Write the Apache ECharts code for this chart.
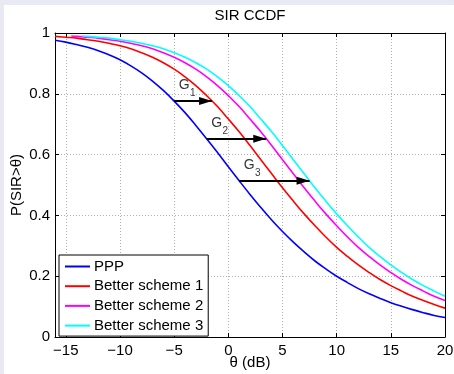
<!DOCTYPE html>
<html>
<head>
<meta charset="utf-8">
<script src="https://cdn.jsdelivr.net/npm/echarts@6/dist/echarts.min.js"></script>
<style>
  html, body { margin: 0; padding: 0; width: 454px; height: 374px; overflow: hidden; background: #e9e9f4; }
  #chart { position: absolute; left: 4px; top: 5px; width: 450px; height: 369px; background: #ffffff; }
</style>
</head>
<body>
<div id="chart"></div>
<script>
// SIR CCDF curves: PPP baseline and three improved schemes (gain = horizontal shift in dB)
const xTicks = [-15, -10, -5, 0, 5, 10, 15, 20];

const seriesNames = ['PPP', 'Better scheme 1', 'Better scheme 2', 'Better scheme 3'];
const seriesColors = ['#0000ff', '#ff0000', '#ff00ff', '#00ffff'];

const pppTheta = [-16, -15, -14, -13, -12, -11, -10, -9, -8, -7, -6, -5, -4, -3, -2, -1, 0,
  1, 2, 3, 4, 5, 6, 7, 8, 9, 10, 11, 12, 13, 14, 15, 16, 17, 18, 19, 20];
const pppProb = [0.976, 0.970, 0.962, 0.953, 0.942, 0.928, 0.912, 0.892, 0.869, 0.842,
  0.811, 0.776, 0.738, 0.696, 0.652, 0.607, 0.560, 0.514, 0.469, 0.426, 0.385, 0.347,
  0.312, 0.280, 0.250, 0.224, 0.200, 0.179, 0.159, 0.142, 0.127, 0.113, 0.101, 0.090,
  0.080, 0.071, 0.064];

const scheme1Theta = [-16, -15, -14, -13, -12, -11, -10, -9, -8, -7, -6, -5, -4, -3, -2, -1, 0,
  1, 2, 3, 4, 5, 6, 7, 8, 9, 10, 11, 12, 13, 14, 15, 16, 17, 18, 19, 20];
const scheme1Prob = [0.989, 0.986, 0.983, 0.978, 0.973, 0.966, 0.958, 0.948, 0.935, 0.920,
  0.902, 0.881, 0.856, 0.827, 0.794, 0.758, 0.717, 0.675, 0.630, 0.583, 0.537, 0.491,
  0.447, 0.405, 0.366, 0.329, 0.295, 0.265, 0.237, 0.212, 0.189, 0.169, 0.151, 0.134,
  0.120, 0.107, 0.095];

const scheme2Theta = [-14.5, -14, -13, -12, -11, -10, -9, -8, -7, -6, -5, -4, -3, -2, -1, 0,
  1, 2, 3, 4, 5, 6, 7, 8, 9, 10, 11, 12, 13, 14, 15, 16, 17, 18, 19, 20];
const scheme2Prob = [0.990, 0.989, 0.986, 0.983, 0.978, 0.973, 0.966, 0.958, 0.948, 0.935,
  0.920, 0.902, 0.881, 0.856, 0.827, 0.794, 0.758, 0.717, 0.675, 0.630, 0.583, 0.537,
  0.491, 0.447, 0.405, 0.366, 0.329, 0.295, 0.265, 0.237, 0.212, 0.189, 0.169, 0.151,
  0.134, 0.120];

const scheme3Theta = [-13.5, -13, -12, -11, -10, -9, -8, -7, -6, -5, -4, -3, -2, -1, 0,
  1, 2, 3, 4, 5, 6, 7, 8, 9, 10, 11, 12, 13, 14, 15, 16, 17, 18, 19, 20];
const scheme3Prob = [0.990, 0.989, 0.986, 0.983, 0.978, 0.973, 0.966, 0.958, 0.948, 0.935,
  0.920, 0.902, 0.881, 0.856, 0.827, 0.794, 0.758, 0.717, 0.675, 0.630, 0.583, 0.537,
  0.491, 0.447, 0.405, 0.366, 0.329, 0.295, 0.265, 0.237, 0.212, 0.189, 0.169, 0.151,
  0.134];

// gain arrows: from the PPP curve to the improved curve at the same probability
const gainStart = [-5, -2, 1];
const gainEnd = [-1.5, 3.5, 7.5];
const gainLevel = [0.776, 0.652, 0.514];
const gainIndex = ['1', '2', '3'];

const FONT = '"Liberation Sans", Arial, Helvetica, sans-serif';

function zip(xs, ys) { return xs.map((x, i) => [x, ys[i]]); }
function minusSign(v) { return v < 0 ? '\u2212' + Math.abs(v) : String(v); }

const curveSets = [
  [pppTheta, pppProb],
  [scheme1Theta, scheme1Prob],
  [scheme2Theta, scheme2Prob],
  [scheme3Theta, scheme3Prob]
];

const curveSeries = curveSets.map((set, i) => ({
  name: seriesNames[i],
  type: 'line',
  xAxisIndex: 0,
  yAxisIndex: 0,
  data: zip(set[0], set[1]),
  smooth: 0.4,
  showSymbol: false,
  symbol: 'none',
  clip: true,
  lineStyle: { color: seriesColors[i], width: 1.6 },
  itemStyle: { color: seriesColors[i] },
  z: 3
}));

const arrowStarts = zip(gainStart, gainLevel);

const gainSeries = [
  {
    name: 'gain',
    type: 'scatter',
    xAxisIndex: 0,
    yAxisIndex: 0,
    data: arrowStarts,
    symbolSize: 0,
    silent: true,
    z: 5,
    label: {
      show: true, position: 'inside', offset: [10, -16],
      formatter: 'G', color: '#000', fontSize: 14, fontFamily: FONT
    },
    markLine: {
      silent: true,
      symbol: ['none', 'triangle'],
      symbolSize: [8, 13],
      symbolOffset: [0, [0, 6.5]],
      label: { show: false },
      lineStyle: { color: '#000', width: 2, type: 'solid' },
      itemStyle: { color: '#000' },
      data: gainStart.map((s, i) => [
        { coord: [s, gainLevel[i]] },
        { coord: [gainEnd[i], gainLevel[i]] }
      ])
    }
  },
  {
    name: 'gainIndex',
    type: 'scatter',
    xAxisIndex: 0,
    yAxisIndex: 0,
    data: arrowStarts,
    symbolSize: 0,
    silent: true,
    z: 5,
    label: {
      show: true, position: 'inside', offset: [18.5, -7.5],
      formatter: p => gainIndex[p.dataIndex], color: '#000', fontSize: 10, fontFamily: FONT
    }
  }
];

const tickLine = { color: '#000', width: 1 };

const option = {
  animation: false,
  backgroundColor: '#ffffff',
  textStyle: { fontFamily: FONT, color: '#000' },
  title: {
    text: 'SIR CCDF',
    left: 246,
    textAlign: 'center',
    top: 3,
    padding: 0,
    textStyle: { fontSize: 15, fontWeight: 'normal', color: '#000', fontFamily: FONT }
  },
  grid: { left: 51, top: 28, right: 9, bottom: 37, containLabel: false, outerBoundsMode: 'none' },
  legend: {
    orient: 'vertical',
    left: 55,
    top: 250,
    data: seriesNames,
    itemWidth: 25,
    itemHeight: 14,
    itemGap: 4.7,
    padding: [4, 5, 3, 5],
    backgroundColor: '#ffffff',
    borderColor: '#000',
    borderWidth: 1,
    borderRadius: 0,
    itemStyle: { color: 'rgba(0,0,0,0)', borderWidth: 0, opacity: 0 },
    lineStyle: { width: 2 },
    textStyle: { fontSize: 15, color: '#000', fontFamily: FONT, padding: [0, 0, 0, -1] }
  },
  xAxis: [
    {
      type: 'value', min: -16, max: 20, position: 'bottom',
      name: 'θ (dB)', nameLocation: 'middle', nameGap: 18, nameMoveOverlap: false,
      nameTextStyle: { fontSize: 15, color: '#000', fontFamily: FONT },
      axisLine: { show: true, onZero: false, lineStyle: tickLine },
      axisTick: { show: true, inside: true, length: 4, customValues: xTicks, lineStyle: tickLine },
      axisLabel: { customValues: xTicks, formatter: minusSign, fontSize: 15, color: '#000', fontFamily: FONT, margin: 6 },
      splitLine: { show: true, lineStyle: { color: '#b0b0b0', width: 1, type: [1, 2] } }
    },
    {
      type: 'value', min: -16, max: 20, position: 'top',
      axisLine: { show: true, onZero: false, lineStyle: tickLine },
      axisTick: { show: true, inside: true, length: 4, customValues: xTicks, lineStyle: tickLine },
      axisLabel: { show: false },
      splitLine: { show: false }
    }
  ],
  yAxis: [
    {
      type: 'value', min: 0, max: 1, interval: 0.2, position: 'left',
      name: 'P(SIR>θ)', nameLocation: 'middle', nameGap: 31, nameMoveOverlap: false,
      nameTextStyle: { fontSize: 15, color: '#000', fontFamily: FONT },
      axisLine: { show: true, onZero: false, lineStyle: tickLine },
      axisTick: { show: true, inside: true, length: 4, lineStyle: tickLine },
      axisLabel: { fontSize: 15, color: '#000', fontFamily: FONT, margin: 5 },
      splitLine: { show: true, lineStyle: { color: '#b0b0b0', width: 1, type: [1, 2] } }
    },
    {
      type: 'value', min: 0, max: 1, interval: 0.2, position: 'right',
      axisLine: { show: true, onZero: false, lineStyle: tickLine },
      axisTick: { show: true, inside: true, length: 4, lineStyle: tickLine },
      axisLabel: { show: false },
      splitLine: { show: false }
    }
  ],
  series: curveSeries.concat(gainSeries)
};

const chart = echarts.init(document.getElementById('chart'), null, { renderer: 'canvas' });
chart.setOption(option);
</script>
</body>
</html>
